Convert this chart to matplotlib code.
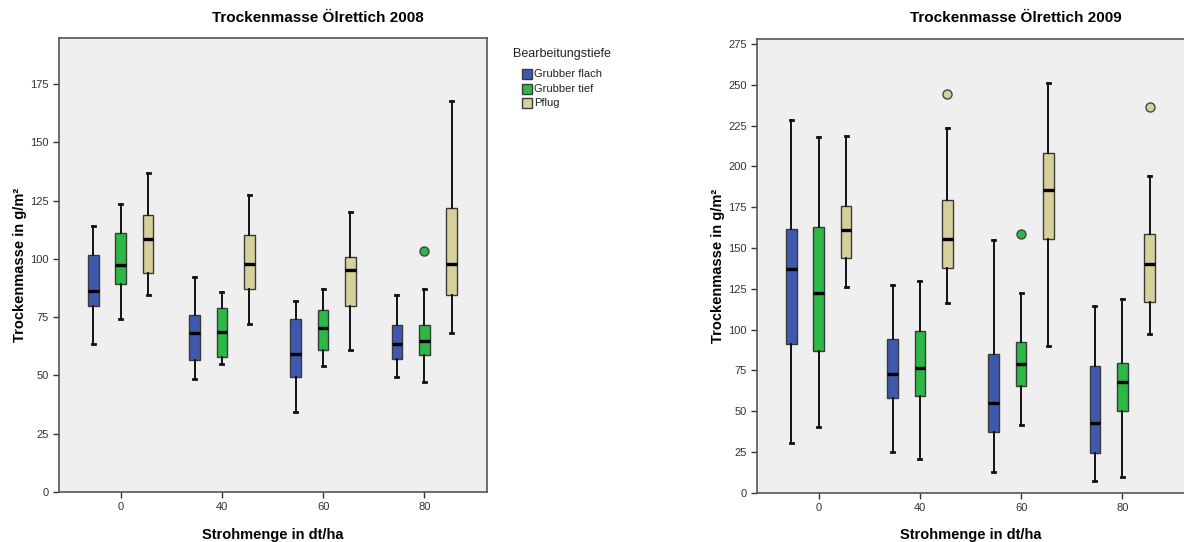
import matplotlib
matplotlib.use("Agg")
import matplotlib.pyplot as plt
from matplotlib.patches import Rectangle

# ---- data ----
categories = ["0", "40", "60", "80"]
groups = ["Grubber flach", "Grubber tief", "Pflug"]
colors = ["#3e58ae", "#2cb845", "#d6d09b"]

# 2008: per group, per category
lo_2008 = {
    "Grubber flach": [63.6, 48.4, 34.4, 49.2],
    "Grubber tief": [74.0, 54.7, 54.1, 47.3],
    "Pflug": [84.3, 72.0, 61.0, 68.0],
}
q1_2008 = {
    "Grubber flach": [79.9, 56.4, 49.3, 57.1],
    "Grubber tief": [89.4, 57.7, 60.7, 58.9],
    "Pflug": [94.0, 86.9, 79.6, 84.6],
}
med_2008 = {
    "Grubber flach": [86.3, 68.3, 59.0, 63.4],
    "Grubber tief": [97.2, 68.6, 70.3, 64.9],
    "Pflug": [108.3, 97.6, 95.2, 97.6],
}
q3_2008 = {
    "Grubber flach": [101.6, 75.7, 74.4, 71.7],
    "Grubber tief": [110.9, 78.7, 77.9, 71.7],
    "Pflug": [118.6, 110.3, 100.7, 122.0],
}
hi_2008 = {
    "Grubber flach": [113.9, 92.4, 82.0, 84.4],
    "Grubber tief": [123.4, 85.6, 87.0, 87.0],
    "Pflug": [136.6, 127.2, 120.1, 167.6],
}
out_2008 = {
    "Grubber flach": [[], [], [], []],
    "Grubber tief": [[], [], [], [103.3]],
    "Pflug": [[], [], [], []],
}

lo_2009 = {
    "Grubber flach": [30.3, 25.0, 12.7, 7.4],
    "Grubber tief": [40.5, 20.5, 41.3, 9.8],
    "Pflug": [126.0, 116.0, 89.8, 97.5],
}
q1_2009 = {
    "Grubber flach": [91.2, 58.3, 37.4, 24.2],
    "Grubber tief": [87.1, 59.5, 65.6, 50.1],
    "Pflug": [143.6, 137.9, 155.6, 117.0],
}
med_2009 = {
    "Grubber flach": [137.1, 72.8, 54.8, 42.8],
    "Grubber tief": [122.3, 76.7, 79.1, 67.9],
    "Pflug": [161.2, 155.5, 185.3, 140.1],
}
q3_2009 = {
    "Grubber flach": [161.6, 94.3, 84.9, 77.5],
    "Grubber tief": [162.8, 99.4, 92.6, 79.4],
    "Pflug": [175.9, 179.1, 208.2, 158.7],
}
hi_2009 = {
    "Grubber flach": [228.2, 127.6, 154.6, 114.5],
    "Grubber tief": [218.0, 129.9, 122.7, 118.7],
    "Pflug": [218.8, 223.6, 251.2, 193.9],
}
out_2009 = {
    "Grubber flach": [[], [], [], []],
    "Grubber tief": [[], [], [158.6], []],
    "Pflug": [[], [244.4], [], [236.2]],
}

titles = ["Trockenmasse Ölrettich 2008", "Trockenmasse Ölrettich 2009"]
xlabel = "Strohmenge in dt/ha"
ylabel = "Trockenmasse in g/m²"
legend_title = "Bearbeitungstiefe"

plt.rcParams['font.family'] = ['Liberation Sans', 'DejaVu Sans']

fig = plt.figure(figsize=(11.84, 5.42), dpi=100)
W, H = 1184, 542

def px_axes(x0, x1, ytop, ybot):
    return fig.add_axes([x0 / W, 1 - ybot / H, (x1 - x0) / W, (ybot - ytop) / H])

ax1 = px_axes(59, 487, 38, 492)
ax2 = px_axes(757, 1185, 39.3, 492.7)

offsets = [-0.27, 0.0, 0.27]
bw = 0.105

def draw(ax, lo, q1, med, q3, hi, out, ylim, yticks):
    ax.set_facecolor("#efefef")
    for gi, g in enumerate(groups):
        stats = []
        for ci in range(len(categories)):
            stats.append(dict(whislo=lo[g][ci], q1=q1[g][ci], med=med[g][ci],
                              q3=q3[g][ci], whishi=hi[g][ci], fliers=out[g][ci]))
        pos = [ci + offsets[gi] for ci in range(len(categories))]
        ax.bxp(stats, positions=pos, widths=bw, patch_artist=True,
               showfliers=True, capwidths=0.03,
               boxprops=dict(facecolor=colors[gi], edgecolor="#3a3a3a", linewidth=1.0),
               medianprops=dict(color="black", linewidth=2.4),
               whiskerprops=dict(color="#111111", linewidth=1.4),
               capprops=dict(color="#111111", linewidth=2.0),
               flierprops=dict(marker="o", markerfacecolor=colors[gi],
                               markeredgecolor="#444444", markersize=6.5,
                               markeredgewidth=1.0),
               manage_ticks=False)
    ax.set_xlim(-0.61, 3.62)
    ax.set_ylim(*ylim)
    ax.set_yticks(yticks)
    ax.set_xticks(range(len(categories)))
    ax.set_xticklabels(categories)
    for s in ax.spines.values():
        s.set_color("#555555")
        s.set_linewidth(1.2)
    ax.tick_params(axis="both", labelsize=8, colors="#333333", length=4,
                   width=1, direction="out")
    ax.set_xlabel(xlabel, fontsize=10.5, fontweight="bold", labelpad=11)
    ax.set_ylabel(ylabel, fontsize=10.5, fontweight="bold")

draw(ax1, lo_2008, q1_2008, med_2008, q3_2008, hi_2008, out_2008,
     (0, 194.7), [0, 25, 50, 75, 100, 125, 150, 175])
draw(ax2, lo_2009, q1_2009, med_2009, q3_2009, hi_2009, out_2009,
     (0, 277.9), [0, 25, 50, 75, 100, 125, 150, 175, 200, 225, 250, 275])
ax1.yaxis.set_label_coords((27 - 59) / 428, 0.5)
ax2.yaxis.set_label_coords((725 - 757) / 428, 0.5)

fig.text(318 / W, 1 - 18 / H, titles[0], ha="center", va="center",
         fontsize=11, fontweight="bold")
fig.text(1016 / W, 1 - 18 / H, titles[1], ha="center", va="center",
         fontsize=11, fontweight="bold")

# legend (drawn manually to match spacing)
fig.text(513 / W, 1 - 54 / H, legend_title, ha="left", va="center",
         fontsize=9, color="#222222")
entry_y = [74, 89, 103]
for c, lab, yy in zip(colors, groups, entry_y):
    fig.patches.append(Rectangle((522 / W, 1 - (yy + 5) / H), 10 / W, 10 / H,
                                 transform=fig.transFigure, facecolor=c,
                                 edgecolor="#3a3a3a", linewidth=1.0))
    fig.text(534 / W, 1 - yy / H, lab, ha="left", va="center",
             fontsize=8, color="#222222")

fig.savefig("out.png", dpi=100)
